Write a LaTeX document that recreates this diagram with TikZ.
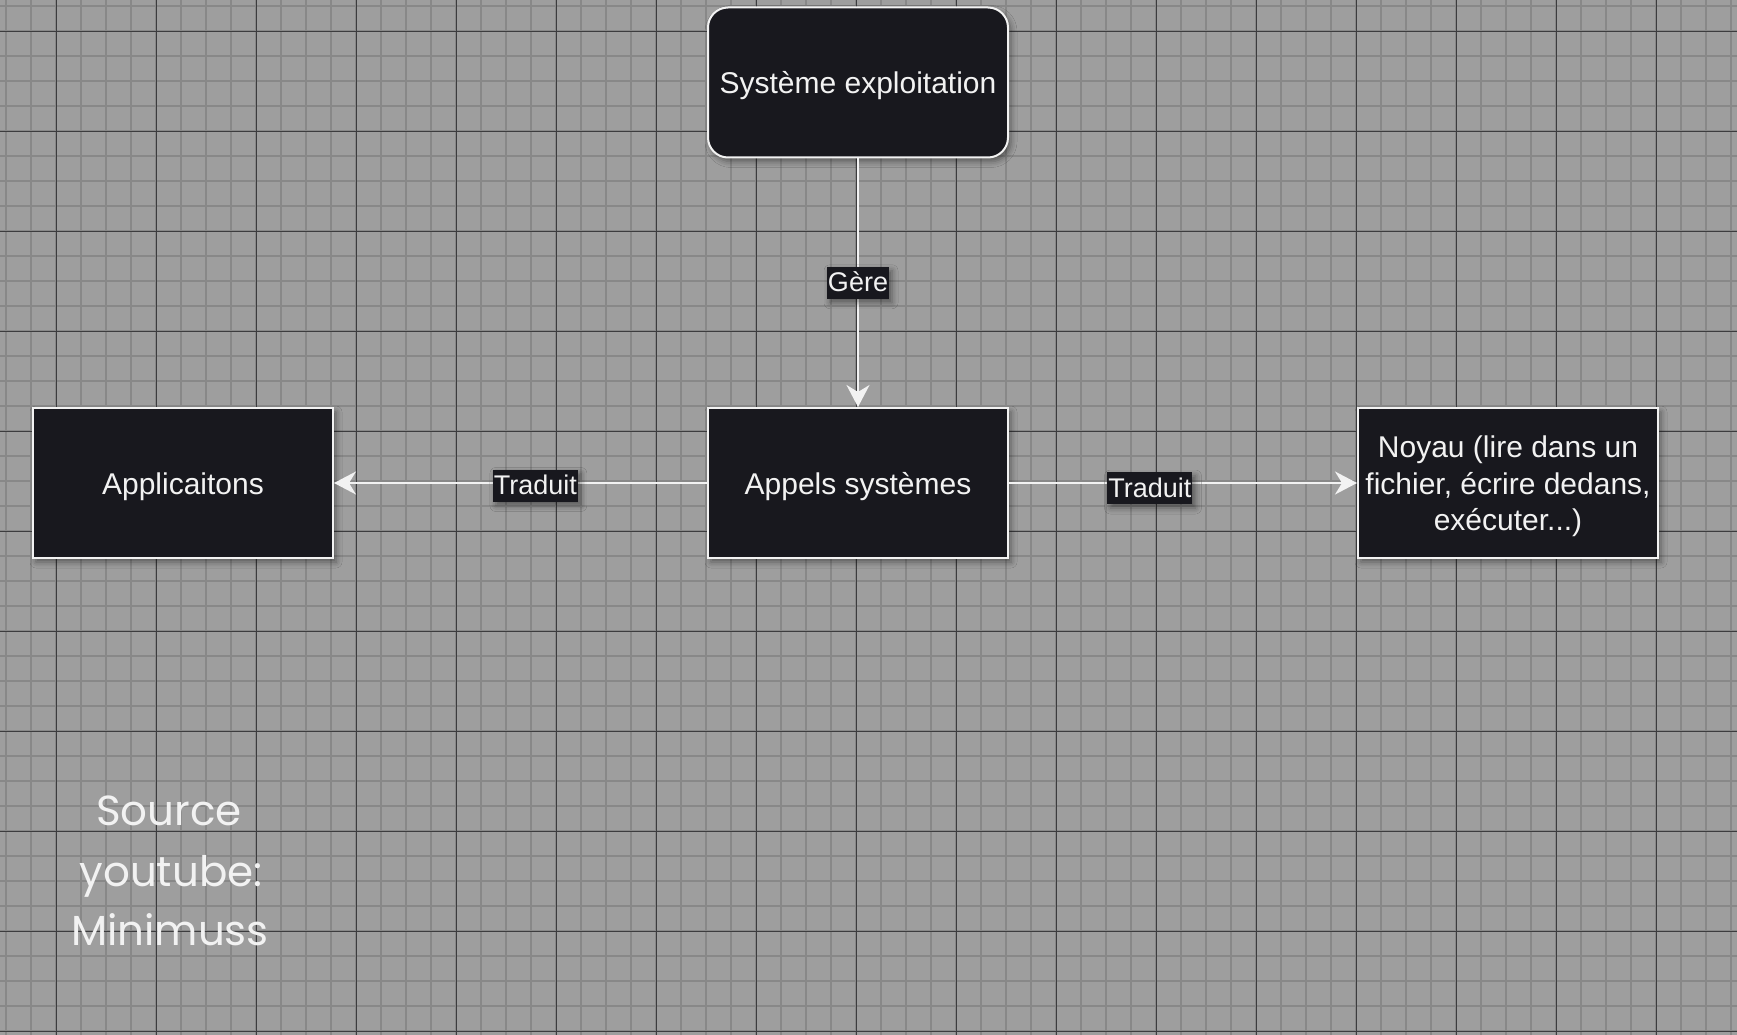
\documentclass[tikz,border=0pt]{standalone}
\usepackage{fontspec}
\setmainfont{Liberation Sans}
\newfontfamily\handfont{Poppins}
\usetikzlibrary{arrows.meta,shadows.blur}
\definecolor{bg}{RGB}{158,158,158}
\definecolor{gminor}{RGB}{136,136,136}
\definecolor{gmajor}{RGB}{60,60,62}
\definecolor{boxfill}{RGB}{24,24,30}
\definecolor{boxline}{RGB}{242,242,242}
\definecolor{txt}{RGB}{242,242,242}
\begin{document}
\begin{tikzpicture}[x=1pt,y=-1pt,
  softshadow/.style={blur shadow={shadow xshift=3pt, shadow yshift=-4pt, shadow blur radius=6pt, shadow opacity=45}},
  box/.style={draw=boxline, line width=2pt, fill=boxfill, text=txt,
    minimum width=300pt, minimum height=150pt, inner sep=0pt, align=center,
    font=\fontsize{30}{36.7}\selectfont, softshadow,
    execute at begin node={\rule{0pt}{28.5pt}}},
  boxtext/.style={text=txt, inner sep=0pt, align=center, font=\fontsize{30}{36.7}\selectfont},
  lbl/.style={fill=boxfill, text=txt, inner xsep=1pt, inner ysep=1pt,
    text height=24pt, text depth=6pt, font=\fontsize{27}{32}\selectfont, softshadow},
  link/.style={draw=boxline, line width=2pt, -{Stealth[length=22pt,width=23pt,inset=7pt]}},
  hand/.style={anchor=base, text=txt, font=\handfont\fontsize{42}{48}\selectfont, inner sep=0pt},
  ]
\useasboundingbox (0,0) rectangle (1737,1035);
\fill[bg] (0,0) rectangle (1737,1035);
% grid
\foreach \x in {6.3,31.3,...,1737} \draw[gminor, line width=2pt] (\x,0) -- (\x,1035);
\foreach \y in {6.3,31.3,...,1035} \draw[gminor, line width=2pt] (0,\y) -- (1737,\y);
\foreach \x in {56.3,156.3,...,1737} \draw[gmajor, line width=1.2pt] (\x,0) -- (\x,1035);
\foreach \y in {31.3,131.3,...,1035} \draw[gmajor, line width=1.2pt] (0,\y) -- (1737,\y);

% nodes
\node[box, rounded corners=20pt] (sys) at (858,82.5) {Système exploitation};
\node[box] (appels) at (858,483) {Appels systèmes};
\node[box] (apps) at (183,483) {Applicaitons};
\node[box, execute at begin node={}] (noyau) at (1508,483) {};
\node[boxtext] (noyautxt) at (1508,486.5) {Noyau (lire dans un\\fichier, écrire dedans,\\exécuter...)};

% edges
\draw[link] (sys) -- (appels) node[lbl, midway] (lg) {Gère};
\draw[link] (appels) -- (apps) node[lbl, pos=0.46, yshift=-2.5pt] (lt1) {Traduit};
\draw[link] (appels) -- (noyau) node[lbl, pos=0.405, yshift=-5pt] (lt2) {Traduit};

% source text
\node[hand] (s1) at (169,825) {Source};
\node[hand] (s2) at (171,886) {youtube:};
\node[hand] (s3) at (170,945) {Minimuss};
\end{tikzpicture}
\end{document}
